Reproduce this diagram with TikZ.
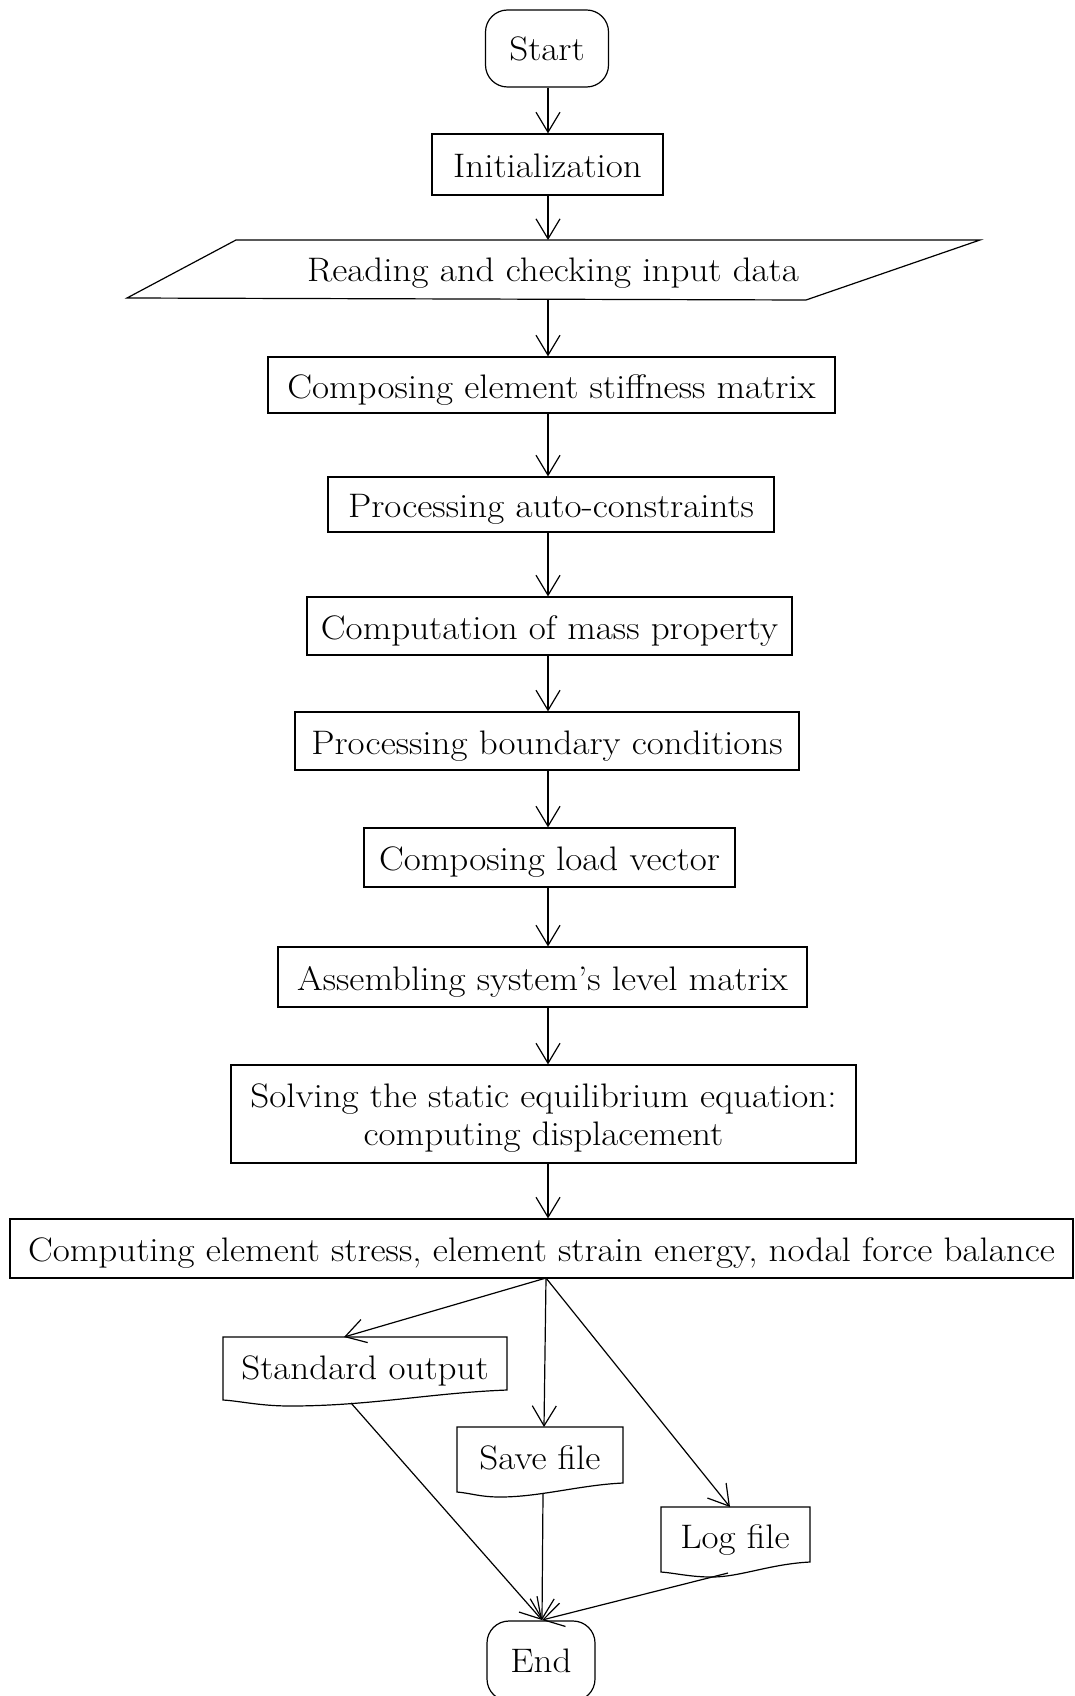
\documentclass[tikz,border=0pt]{standalone}
\usepackage{fontspec}
\setmainfont{Latin Modern Roman}[FakeStretch=1.09]
\usetikzlibrary{arrows.meta}
\newcommand\lblfont{\fontsize{34}{38}\selectfont}
\begin{document}
\begin{tikzpicture}[x=1pt,y=-1pt,line width=1.2pt,
  box/.style={draw,rectangle,inner sep=0pt,font=\lblfont,text height=26pt,text depth=0pt},
  plainbox/.style={draw,rectangle,inner sep=0pt},
  term/.style={draw,rectangle,rounded corners=22pt,inner sep=0pt,font=\lblfont},
  lbl/.style={inner sep=0pt,font=\lblfont},
  arr/.style={-{Straight Barb[length=20pt,width=24pt,line width=1.2pt]}}]
\useasboundingbox (0,0) rectangle (1074,1696);
\fill[white] (0,0) rectangle (1074,1696);
\coordinate (spine) at (548,0);

\node[term,minimum width=123pt,minimum height=77pt] (start) at (547,48.5) {Start};
\node[box,minimum width=231pt,minimum height=61pt] (init) at (547.5,164.5) {Initialization};

% parallelogram
\node[lbl] (read) at (553,273) {Reading and checking input data};
\draw (236,240) -- (980,240) -- (806,300) -- (127,298) -- cycle;
\coordinate (readN) at (548,240);
\coordinate (readS) at (548,299);

\node[box,minimum width=567pt,minimum height=56pt] (stiff) at (551.5,385) {Composing element stiffness matrix};
\node[box,minimum width=446pt,minimum height=55pt] (auto) at (551,504.5) {Processing auto-constraints};
\node[box,minimum width=485pt,minimum height=58pt] (mass) at (549.5,626) {Computation of mass property};
\node[box,minimum width=504pt,minimum height=58pt] (bound) at (547,741) {Processing boundary conditions};
\node[box,minimum width=371pt,minimum height=59pt] (load) at (549.5,857.5) {Composing load vector};
\node[box,minimum width=529pt,minimum height=60pt] (assem) at (542.5,977) {Assembling system’s level matrix};
\node[plainbox,minimum width=625pt,minimum height=98pt] (solve) at (543.5,1114) {};
\node[lbl,align=center] (solvetext) at ([yshift=-4pt]solve.center) {Solving the static equilibrium equation:\\computing displacement};
\node[box,minimum width=1063pt,minimum height=59pt] (comp) at (541.5,1248.5) {Computing element stress, element strain energy, nodal force balance};

% document shapes
\node[lbl] (stdout) at (365,1371) {Standard output};
\draw (223,1337) -- (507,1337) -- (507,1390)
  .. controls (430,1393) and (370,1406) .. (290,1406)
  .. controls (260,1406) and (240,1401) .. (223,1400) -- cycle;
\coordinate (stdoutN) at (344,1337);
\coordinate (stdoutS) at (351,1403);

\node[lbl] (save) at (540,1458) {Save file};
\draw (457,1427) -- (623,1427) -- (623,1483)
  .. controls (580,1485) and (540,1497) .. (500,1497)
  .. controls (480,1497) and (470,1493) .. (457,1492) -- cycle;
\coordinate (saveN) at (544,1427);
\coordinate (saveS) at (543,1494);

\node[lbl] (logf) at (735,1540) {Log file};
\draw (661,1507) -- (810,1507) -- (810,1562)
  .. controls (770,1564) and (740,1577) .. (712,1577)
  .. controls (690,1577) and (675,1573) .. (661,1572) -- cycle;
\coordinate (logN) at (730,1507);
\coordinate (logS) at (728,1573);

\node[term,minimum width=108pt,minimum height=80pt] (end) at (541,1661) {End};

% connectors
\draw[arr] (spine |- start.south) -- (spine |- init.north);
\draw[arr] (spine |- init.south) -- (readN);
\draw[arr] (readS) -- (spine |- stiff.north);
\draw[arr] (spine |- stiff.south) -- (spine |- auto.north);
\draw[arr] (spine |- auto.south) -- (spine |- mass.north);
\draw[arr] (spine |- mass.south) -- (spine |- bound.north);
\draw[arr] (spine |- bound.south) -- (spine |- load.north);
\draw[arr] (spine |- load.south) -- (spine |- assem.north);
\draw[arr] (spine |- assem.south) -- (spine |- solve.north);
\draw[arr] (spine |- solve.south) -- (spine |- comp.north);
\coordinate (compS) at (546,1278);
\draw[arr] (compS) -- (stdoutN);
\draw[arr] (compS) -- (saveN);
\draw[arr] (compS) -- (logN);
\coordinate (endN) at (542,1620);
\draw[arr] (stdoutS) -- (endN);
\draw[arr] (saveS) -- (endN);
\draw[arr] (logS) -- (endN);
\end{tikzpicture}
\end{document}
